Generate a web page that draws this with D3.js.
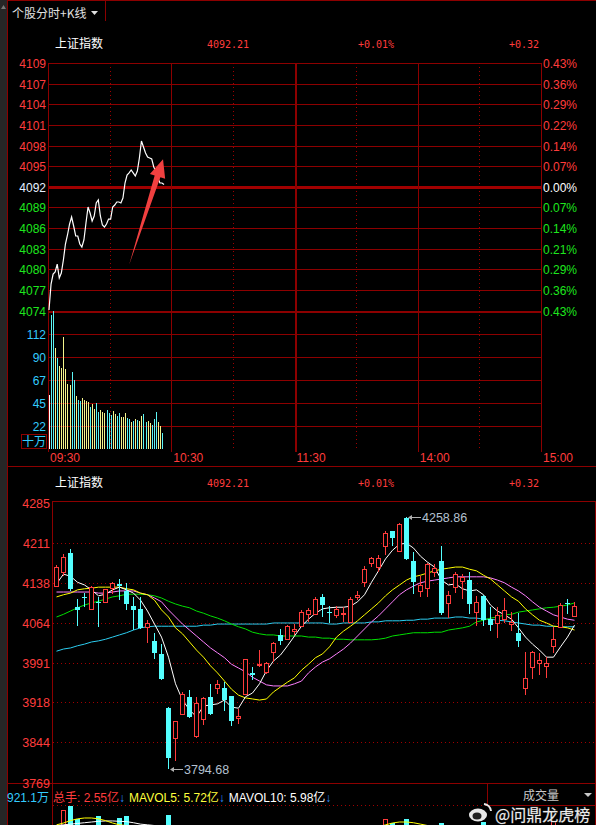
<!DOCTYPE html>
<html>
<head>
<meta charset="utf-8">
<script src="https://cdn.jsdelivr.net/npm/d3@7"></script>
<style>
  body { margin: 0; background: #000; overflow: hidden; }
  svg { display: block; }
  text { font-family: "Liberation Sans", Arial, "Noto Sans CJK SC", sans-serif; }
</style>
</head>
<body>
<div id="chart"></div>
<script>
// ---- header values
const indexName = "上证指数";
const prevClose = 4091.89;
const headerPrice = "4092.21";
const headerPct = "+0.01%";
const headerChg = "+0.32";

// ---- intraday (one value per minute from 09:30)
const minutePrice = [4074.36, 4078.06, 4079.48, 4079.77, 4080.90, 4078.91, 4079.63, 4081.47, 4083.75, 4085.03,
  4086.59, 4087.59, 4086.31, 4084.89, 4084.89, 4083.75, 4083.32, 4084.32, 4086.74, 4089.01,
  4088.16, 4087.02, 4087.73, 4089.58, 4090.01, 4087.73, 4086.45, 4086.17, 4086.59, 4087.30,
  4087.30, 4089.01, 4089.29, 4089.72, 4089.72, 4089.58, 4090.29, 4092.42, 4093.56, 4093.85,
  4094.27, 4093.85, 4093.42, 4094.13, 4095.98, 4098.40, 4097.54, 4096.69, 4096.12, 4095.98,
  4095.84, 4094.70, 4094.13, 4093.13, 4092.42, 4092.42, 4092.21];
// volume in 十万 units
const minuteVol = [52.7, 130.8, 134.7, 98.3, 88.5, 81.0, 78.8, 109.0, 77.8, 63.4,
  62.5, 74.9, 67.3, 51.7, 47.8, 46.9, 50.1, 47.8, 46.9, 45.6,
  41.3, 43.9, 39.0, 44.6, 36.4, 38.1, 36.4, 34.8, 38.1, 34.8,
  33.2, 37.1, 34.2, 32.2, 34.8, 30.9, 31.5, 34.8, 30.0, 29.0,
  26.6, 27.6, 29.3, 28.3, 27.6, 32.2, 33.9, 26.6, 27.6, 25.1,
  23.4, 29.3, 35.8, 26.6, 22.4, 15.9];
const minuteDir = ["w","c","c","y","c","y","y","y","y","y",
  "y","c","c","y","c","c","y","y","y","y",
  "c","y","y","c","c","y","y","y","c","c",
  "c","y","y","c","c","y","y","y","c","c",
  "y","c","y","c","y","y","c","c","y","y",
  "c","c","c","y","y","c"];
const priceLabels = ["4109", "4107", "4104", "4101", "4098", "4095", "4092", "4089", "4086", "4083", "4080", "4077", "4074"];
const pctLabels = ["0.43%", "0.36%", "0.29%", "0.22%", "0.14%", "0.07%", "0.00%", "0.07%", "0.14%", "0.21%", "0.29%", "0.36%", "0.43%"];
const volTicks = [22.4, 44.9, 67.3, 89.7, 112.2];
const timeLabels = ["09:30", "10:30", "11:30", "14:00", "15:00"];
const timeMinutes = [0, 60, 120, 180, 240];

// ---- daily candles
const kOpen = [4133, 4157, 4193, 4093, 4112, 4090, 4103, 4103, 4128, 4135,
  4122, 4095, 4090, 4057, 4031, 4007, 3907, 3853, 3896, 3927,
  3855, 3888, 3927, 3944, 3944, 3929, 3889, 3933, 3971, 3986,
  3974, 4011, 4042, 4034, 4049, 4058, 4080, 4080, 4112, 4085,
  4079, 4081, 4066, 4111, 4140, 4174, 4168, 4206, 4233, 4197,
  4258, 4178, 4123, 4128, 4158, 4178, 4100, 4131, 4142, 4143,
  4085, 4114, 4071, 4064, 4071, 4062, 4046, 3944, 3982, 3990,
  3984, 4022, 4057, 4100, 4077];
const kHigh = [4170, 4191, 4200, 4109, 4119, 4132, 4112, 4127, 4140, 4145,
  4137, 4111, 4111, 4070, 4045, 4025, 3910, 3884, 3936, 3940,
  3928, 3928, 3952, 3959, 3956, 3930, 3905, 3997, 3982, 4014,
  3993, 4029, 4053, 4061, 4062, 4087, 4091, 4111, 4117, 4095,
  4095, 4093, 4111, 4123, 4169, 4186, 4189, 4233, 4234, 4248,
  4258.86, 4195, 4150, 4174, 4172, 4205, 4123, 4158, 4154, 4158,
  4114, 4116, 4094, 4093, 4110, 4084, 4082, 4010, 4012, 4008,
  4001, 4056, 4101, 4108, 4103];
const kLow = [4130, 4150, 4122, 4058, 4094, 4088, 4057, 4101, 4117, 4107,
  4088, 4051, 4052, 4027, 3997, 3959, 3794.68, 3810, 3894, 3889,
  3853, 3876, 3895, 3933, 3902, 3875, 3878, 3931, 3959, 3983,
  3970, 3993, 4023, 4033, 4042, 4056, 4066, 4078, 4075, 4064,
  4074, 4066, 4064, 4106, 4130, 4168, 4158, 4189, 4205, 4195,
  4180, 4117, 4112, 4112, 4149, 4079, 4074, 4120, 4108, 4080,
  4058, 4058, 4050, 4037, 4064, 4049, 4019, 3932, 3960, 3968,
  3962, 4009, 4055, 4080, 4075];
const kClose = [4167, 4185, 4126, 4088, 4110, 4130, 4101, 4126, 4137, 4132,
  4099, 4088, 4054, 4064, 4008, 3960, 3816, 3884, 3934, 3891,
  3916, 3925, 3896, 3952, 3922, 3884, 3893, 3997, 3968, 3989,
  3991, 4028, 4031, 4058, 4053, 4085, 4088, 4109, 4097, 4084,
  4089, 4082, 4109, 4115, 4163, 4183, 4184, 4229, 4220, 4246,
  4182, 4140, 4134, 4172, 4165, 4082, 4115, 4155, 4149, 4099,
  4103, 4069, 4060, 4079, 4088, 4065, 4031, 3962, 4011, 3996,
  3991, 4035, 4098, 4099, 4095];
const ma5 = [4136, 4154, 4150, 4139, 4134, 4125, 4114, 4117, 4125, 4130,
  4125, 4119, 4106, 4086, 4062, 4038, 4001, 3952, 3922, 3904,
  3891, 3911, 3913, 3915, 3922, 3909, 3907, 3928, 3935, 3952,
  3976, 3994, 4005, 4022, 4040, 4058, 4071, 4082, 4090, 4092,
  4093, 4093, 4095, 4103, 4116, 4139, 4160, 4182, 4198, 4209,
  4211, 4202, 4187, 4176, 4167, 4143, 4134, 4136, 4127, 4123,
  4125, 4116, 4097, 4086, 4079, 4071, 4055, 4038, 4025, 4014,
  4001, 4001, 4020, 4038, 4060];
const ma10 = [4112, 4116, 4119, 4125, 4127, 4128, 4130, 4130, 4130, 4130,
  4127, 4125, 4119, 4116, 4106, 4088, 4075, 4055, 4044, 4029,
  4014, 4001, 3985, 3972, 3957, 3942, 3931, 3926, 3924, 3922,
  3924, 3937, 3946, 3955, 3963, 3977, 3988, 4000, 4007, 4020,
  4038, 4049, 4058, 4068, 4079, 4090, 4101, 4114, 4125, 4134,
  4143, 4149, 4152, 4156, 4160, 4163, 4165, 4167, 4167, 4163,
  4160, 4152, 4145, 4134, 4123, 4112, 4104, 4090, 4079, 4069,
  4064, 4058, 4057, 4055, 4051];
const ma20 = [4121, 4121, 4121, 4121, 4121, 4121, 4119, 4119, 4121, 4123,
  4123, 4123, 4119, 4116, 4110, 4103, 4088, 4075, 4062, 4051,
  4040, 4029, 4018, 4009, 4000, 3988, 3981, 3974, 3964, 3957,
  3950, 3948, 3948, 3948, 3952, 3957, 3972, 3983, 3992, 3998,
  4007, 4016, 4027, 4040, 4053, 4066, 4077, 4090, 4103, 4116,
  4125, 4132, 4138, 4141, 4143, 4145, 4147, 4149, 4149, 4149,
  4149, 4149, 4147, 4143, 4138, 4130, 4123, 4114, 4103, 4093,
  4086, 4079, 4075, 4071, 4069];
const ma60 = [4075, 4080, 4086, 4092, 4097, 4101, 4104, 4108, 4112, 4114,
  4117, 4117, 4117, 4116, 4114, 4110, 4104, 4099, 4095, 4092,
  4086, 4082, 4077, 4073, 4068, 4062, 4057, 4053, 4047, 4044,
  4042, 4042, 4040, 4040, 4040, 4040, 4038, 4038, 4036, 4036,
  4034, 4034, 4033, 4033, 4033, 4033, 4034, 4036, 4040, 4042,
  4044, 4046, 4046, 4046, 4047, 4047, 4051, 4053, 4055, 4058,
  4066, 4069, 4073, 4075, 4079, 4080, 4084, 4086, 4088, 4090,
  4092, 4093, 4095, 4097, 4101];
const ma120 = [4012, 4016, 4018, 4022, 4025, 4029, 4031, 4034, 4038, 4042,
  4046, 4051, 4055, 4057, 4058, 4058, 4058, 4058, 4058, 4058,
  4058, 4060, 4060, 4062, 4062, 4062, 4062, 4062, 4062, 4062,
  4062, 4064, 4064, 4064, 4064, 4064, 4064, 4064, 4064, 4062,
  4062, 4064, 4064, 4064, 4064, 4066, 4066, 4068, 4068, 4068,
  4069, 4069, 4071, 4071, 4073, 4073, 4073, 4075, 4075, 4073,
  4073, 4071, 4071, 4069, 4068, 4066, 4064, 4062, 4060, 4060,
  4058, 4058, 4057, 4057, 4057];
const kTickLabels = ["4285", "4211", "4138", "4064", "3991", "3918", "3844", "3769"];
const highMark = 4258.86, highIdx = 50;
const lowMark = 3794.68, lowIdx = 16;

// ---- daily volume (亿); the panel is cut off, only the tallest bars show
const kVol = [6.2, 8.5, 9.21, 7.23, 6.0, 6.2, 7.65, 5.6, 5.8, 7.37,
  7.65, 6.3, 6.2, 5.5, 6.1, 6.3, 7.79, 6.3, 6.0, 5.6,
  5.9, 5.3, 5.2, 4.9, 5.0, 5.3, 4.8, 6.1, 5.2, 5.0,
  4.9, 5.5, 5.6, 5.4, 5.1, 5.8, 5.3, 5.9, 6.0, 5.4,
  5.0, 4.9, 6.0, 5.5, 6.2, 6.0, 6.1, 7.23, 6.66, 6.3,
  7.23, 6.2, 5.6, 6.0, 5.5, 6.66, 5.6, 5.8, 5.3, 6.1,
  5.5, 6.8, 5.6, 5.4, 5.5, 5.2, 6.1, 6.2, 5.8, 5.3,
  5.9, 6.94, 6.3, 6.2, 2.55];
const mavol5 = [6.4, 6.66, 7.0, 7.25, 7.37, 7.37, 7.25, 7.0, 6.66, 6.4,
  6.3, 6.3, 6.2, 6.2, 6.1, 6.0, 6.2, 6.2, 6.2, 6.1,
  5.9, 5.8, 5.6, 5.4, 5.2, 5.2, 5.1, 5.2, 5.2, 5.3,
  5.2, 5.3, 5.4, 5.3, 5.3, 5.5, 5.5, 5.6, 5.6, 5.7,
  5.6, 5.5, 5.5, 5.5, 5.7, 5.9, 6.1, 6.4, 6.66, 6.8,
  6.8, 6.7, 6.5, 6.3, 6.1, 6.0, 5.9, 5.9, 5.8, 5.8,
  5.8, 5.9, 5.9, 5.9, 5.8, 5.7, 5.7, 5.8, 5.8, 5.8,
  5.8, 5.9, 5.9, 5.8, 5.72];
const mavol10 = [6.3, 6.4, 6.5, 6.6, 6.7, 6.8, 6.9, 6.95, 6.95, 6.9,
  6.85, 6.7, 6.5, 6.4, 6.3, 6.2, 6.2, 6.2, 6.1, 6.1,
  6.0, 5.9, 5.9, 5.8, 5.7, 5.6, 5.5, 5.4, 5.3, 5.3,
  5.2, 5.2, 5.3, 5.3, 5.3, 5.4, 5.4, 5.4, 5.5, 5.5,
  5.5, 5.5, 5.6, 5.6, 5.7, 5.8, 5.8, 5.9, 6.0, 6.1,
  6.2, 6.3, 6.3, 6.3, 6.3, 6.3, 6.2, 6.2, 6.2, 6.1,
  6.0, 6.0, 5.9, 5.9, 5.9, 5.9, 5.9, 5.9, 5.9, 5.9,
  6.0, 6.0, 6.0, 6.0, 5.98];
const volTop = 9.211;
const volHeader = "921.1万";
const volStats = [
  { label: "总手: 2.55亿", colour: "#ff3c3c" },
  { label: "MAVOL5: 5.72亿", colour: "#ffff3c" },
  { label: "MAVOL10: 5.98亿", colour: "#ffffff" }
];

const colours = {
  grid: "#8c0000",
  dot: "#a00000",
  red: "#ff3c3c",
  green: "#1ee61e",
  blue: "#33ccff",
  cyanBar: "#5cf4f4",
  yellowBar: "#f4f48c",
  candleDown: "#54ffff",
  ma5: "#ffffff",
  ma10: "#ffff00",
  ma20: "#ff80ff",
  ma60: "#00e000",
  ma120: "#2ccdf0"
};

const W = 596, H = 825;
const svg = d3.select("#chart").append("svg").attr("width", W).attr("height", H);
svg.append("rect").attr("width", W).attr("height", H).attr("fill", "#000");

const cjk = "'Noto Sans CJK SC', sans-serif";
const mono = "'DejaVu Sans Mono', monospace";

// ---------------- daily scales (shared by candles and volume)
const n = kOpen.length;
const xK = d3.scaleBand().domain(d3.range(n)).range([52.5, 52.5 + n * 7]);
const yK = d3.scaleLinear().domain([3769.2, 4285]).range([783, 503]);
const cx = i => Math.round(xK(i) + xK.bandwidth() / 2);

// ---------------- volume footer bars (drawn first, clipped to the footer)
svg.append("clipPath").attr("id", "volClip")
  .append("rect").attr("x", 53).attr("y", 806).attr("width", 542).attr("height", H - 806);
const yVol = d3.scaleLinear().domain([0, volTop]).range([870, 805]);
const vg = svg.append("g").attr("clip-path", "url(#volClip)");
const vb = vg.append("g").attr("shape-rendering", "crispEdges");
d3.range(n).forEach(i => {
  const x = cx(i), top = Math.round(yVol(kVol[i]));
  if (kClose[i] >= kOpen[i]) {
    vb.append("rect").attr("x", x - 1.5).attr("y", top + 0.5).attr("width", 4).attr("height", H + 10 - top)
      .attr("fill", "#000").attr("stroke", colours.red);
  } else {
    vb.append("rect").attr("x", x - 2).attr("y", top).attr("width", 5).attr("height", H + 10 - top)
      .attr("fill", colours.candleDown);
  }
});
const volLine = d3.line().x((d, i) => cx(i) + 0.5).y(d => yVol(d));
vg.append("path").datum(mavol10).attr("d", volLine).attr("fill", "none").attr("stroke", "#ffffff");
vg.append("path").datum(mavol5).attr("d", volLine).attr("fill", "none").attr("stroke", "#ffff00");

// left strip and top tab
svg.append("rect").attr("x", 0).attr("y", 0).attr("width", 7).attr("height", H).attr("fill", "#262626");
svg.append("path").attr("d", "M1,9 L3.5,5 L6,9 Z").attr("fill", "#777");
const frame = svg.append("g").attr("stroke", colours.grid).attr("shape-rendering", "crispEdges");
frame.append("line").attr("x1", 7).attr("x2", W).attr("y1", 0.5).attr("y2", 0.5);
frame.append("line").attr("x1", 7.5).attr("x2", 7.5).attr("y1", 0).attr("y2", H);
frame.append("line").attr("x1", 105.5).attr("x2", 105.5).attr("y1", 0).attr("y2", 21);
frame.append("line").attr("x1", 7).attr("x2", W).attr("y1", 466.5).attr("y2", 466.5);
svg.append("text").attr("x", 12).attr("y", 18).attr("fill", "#e0e0e0")
  .style("font-family", cjk).style("font-size", "12px").text("个股分时+K线");
svg.append("path").attr("d", "M91,11 L98,11 L94.5,15 Z").attr("fill", "#e0e0e0");

// header rows
function header(y) {
  svg.append("text").attr("x", 55).attr("y", y).attr("fill", "#ffffff")
    .style("font-family", cjk).style("font-size", "12px").text(indexName);
  [[207, headerPrice], [358, headerPct], [509, headerChg]].forEach(([x, t]) => {
    svg.append("text").attr("x", x).attr("y", y).attr("fill", colours.red)
      .style("font-family", mono).style("font-size", "10px").text(t);
  });
}
header(48);
header(487);

// ---------------- intraday panel
const xT = d3.scaleLinear().domain([0, 240]).range([48, 541]);
const yP = d3.scaleLinear()
  .domain([prevClose * (1 - 0.0043), prevClose * (1 + 0.0043)])
  .range([310.5, 63]);
const yV = d3.scaleLinear().domain([0, 134.6]).range([449, 311]);

const intra = svg.append("g").attr("shape-rendering", "crispEdges");
const priceLevels = d3.range(13).map(k => prevClose * (1 + 0.0043 * (6 - k) / 6));
priceLevels.forEach((p, k) => {
  const y = Math.round(yP(p));
  intra.append("line").attr("x1", 48).attr("x2", 541)
    .attr("y1", y + 0.5).attr("y2", y + 0.5)
    .attr("stroke", k === 6 ? "#a00000" : colours.grid)
    .attr("stroke-width", k === 6 ? 3 : (k === 12 ? 2 : 1));
  const left = k < 6 ? colours.red : (k === 6 ? "#e6f0ff" : colours.green);
  const right = k < 6 ? colours.red : (k === 6 ? "#ffffff" : colours.green);
  svg.append("text").attr("x", 46).attr("y", y + 4.5).attr("text-anchor", "end")
    .attr("fill", left).style("font-size", "12px").text(priceLabels[k]);
  svg.append("text").attr("x", 543).attr("y", y + 4.5)
    .attr("fill", right).style("font-size", "12px").text(pctLabels[k]);
});
volTicks.forEach(v => {
  const y = Math.round(yV(v));
  intra.append("line").attr("x1", 48).attr("x2", 541)
    .attr("y1", y + 0.5).attr("y2", y + 0.5).attr("stroke", colours.grid);
  svg.append("text").attr("x", 46).attr("y", y + 4.5).attr("text-anchor", "end")
    .attr("fill", colours.blue).style("font-size", "12px").text(d3.format(".0f")(v));
});
d3.range(0, 241, 30).forEach(m => {
  const x = Math.round(xT(m));
  const solid = m % 60 === 0;
  intra.append("line").attr("x1", x + 0.5).attr("x2", x + 0.5)
    .attr("y1", 63).attr("y2", solid ? 452 : 449)
    .attr("stroke", solid ? colours.grid : colours.dot)
    .attr("stroke-width", m === 120 ? 2 : 1)
    .attr("stroke-dasharray", solid ? null : "1,3");
});
timeLabels.forEach((t, i) => {
  svg.append("text").attr("x", xT(timeMinutes[i]) + 2).attr("y", 462)
    .attr("fill", colours.red).style("font-size", "12px").text(t);
});
// 十万 unit box
svg.append("rect").attr("x", 21.5).attr("y", 434.5).attr("width", 25).attr("height", 14)
  .attr("fill", "none").attr("stroke", colours.grid);
svg.append("text").attr("x", 34).attr("y", 446).attr("text-anchor", "middle")
  .attr("fill", colours.blue).style("font-family", cjk).style("font-size", "12px").text("十万");

// minute volume bars
const barColour = { w: "#ffffff", c: colours.cyanBar, y: colours.yellowBar };
intra.selectAll(".mvol").data(minuteVol).enter().append("line")
  .attr("class", "mvol")
  .attr("x1", (d, i) => Math.round(xT(i) + 1) + 0.5)
  .attr("x2", (d, i) => Math.round(xT(i) + 1) + 0.5)
  .attr("y1", yV(0))
  .attr("y2", d => yV(d))
  .attr("stroke", (d, i) => barColour[minuteDir[i]]);

// price line
const priceLine = d3.line().x((d, i) => xT(i) + 1).y(d => yP(d));
svg.append("path").datum(minutePrice).attr("d", priceLine)
  .attr("fill", "none").attr("stroke", "#ffffff").attr("stroke-width", 1.2);

// hand-drawn red arrow (tail and tip in minute / price terms)
const arrowTail = [39.5, 4080.8], arrowTip = [56, 4095.8];
(function drawArrow() {
  const x0 = xT(arrowTail[0]), y0 = yP(arrowTail[1]);
  const x1 = xT(arrowTip[0]), y1 = yP(arrowTip[1]);
  const dx = x1 - x0, dy = y1 - y0, len = Math.hypot(dx, dy);
  const ux = dx / len, uy = dy / len, nx = -uy, ny = ux;
  const headLen = 18, headW = 8, shaftEnd = 3;
  const bx = x1 - ux * headLen, by = y1 - uy * headLen;
  const pts = [
    [x0, y0],
    [bx + nx * shaftEnd, by + ny * shaftEnd],
    [bx + nx * headW, by + ny * headW],
    [x1, y1],
    [bx - nx * headW, by - ny * headW],
    [bx - nx * shaftEnd, by - ny * shaftEnd]
  ];
  svg.append("path").attr("d", "M" + pts.map(p => p.join(",")).join("L") + "Z")
    .attr("fill", "#f04040");
})();

// ---------------- daily candle panel
const kg = svg.append("g").attr("shape-rendering", "crispEdges");
kg.append("line").attr("x1", 52).attr("x2", W).attr("y1", 501.5).attr("y2", 501.5).attr("stroke", colours.grid);
kg.append("line").attr("x1", 52.5).attr("x2", 52.5).attr("y1", 501).attr("y2", H).attr("stroke", colours.grid);
kg.append("line").attr("x1", 595.5).attr("x2", 595.5).attr("y1", 501).attr("y2", H).attr("stroke", colours.grid);
kg.append("line").attr("x1", 7).attr("x2", W).attr("y1", 783.5).attr("y2", 783.5).attr("stroke", colours.grid);
kTickLabels.forEach((t, k) => {
  const y = Math.round(yK(+t));
  if (k > 0 && k < kTickLabels.length - 1) {
    kg.append("line").attr("x1", 53).attr("x2", 595).attr("y1", y + 0.5).attr("y2", y + 0.5)
      .attr("stroke", colours.dot).attr("stroke-dasharray", "1,3");
  }
  svg.append("text").attr("x", 50).attr("y", y + 4.5).attr("text-anchor", "end")
    .attr("fill", colours.red).style("font-size", "12.5px").text(t);
});

// moving averages
const maLine = d3.line().x((d, i) => cx(i) + 0.5).y(d => yK(d));
[[ma120, colours.ma120], [ma60, colours.ma60], [ma20, colours.ma20], [ma10, colours.ma10], [ma5, colours.ma5]]
  .forEach(([arr, c]) => {
    svg.append("path").datum(arr).attr("d", maLine)
      .attr("fill", "none").attr("stroke", c).attr("stroke-width", 1);
  });

// candles
const cg = svg.append("g").attr("shape-rendering", "crispEdges");
d3.range(n).forEach(i => {
  const o = kOpen[i], c = kClose[i], h = kHigh[i], l = kLow[i];
  const x = cx(i);
  const top = Math.round(yK(Math.max(o, c))), bot = Math.round(yK(Math.min(o, c)));
  if (c >= o) {
    cg.append("line").attr("x1", x + 0.5).attr("x2", x + 0.5).attr("y1", yK(h)).attr("y2", top).attr("stroke", colours.red);
    cg.append("line").attr("x1", x + 0.5).attr("x2", x + 0.5).attr("y1", bot).attr("y2", yK(l)).attr("stroke", colours.red);
    cg.append("rect").attr("x", x - 1.5).attr("y", top + 0.5).attr("width", 4).attr("height", Math.max(bot - top, 1))
      .attr("fill", "#000").attr("stroke", colours.red);
  } else {
    cg.append("line").attr("x1", x + 0.5).attr("x2", x + 0.5).attr("y1", yK(h)).attr("y2", yK(l)).attr("stroke", colours.candleDown);
    cg.append("rect").attr("x", x - 2).attr("y", top).attr("width", 5).attr("height", Math.max(bot - top, 1))
      .attr("fill", colours.candleDown);
  }
});

// high / low markers
function marker(idx, value) {
  const x = cx(idx) + 2, y = Math.round(yK(value)) + 0.5;
  svg.append("line").attr("x1", x + 2).attr("x2", x + 13).attr("y1", y).attr("y2", y)
    .attr("stroke", "#b0b0b0");
  svg.append("path").attr("d", `M${x},${y} L${x + 4},${y - 2.5} L${x + 4},${y + 2.5} Z`).attr("fill", "#b0b0b0");
  svg.append("text").attr("x", x + 14).attr("y", y + 4.5).attr("fill", "#b4c0d0")
    .style("font-size", "12.5px").text(d3.format(".2f")(value));
}
marker(highIdx, highMark);
marker(lowIdx, lowMark);

// ---------------- volume footer texts and frame
svg.append("text").attr("x", 7).attr("y", 802).attr("fill", colours.blue)
  .style("font-size", "12px").text(volHeader);
let fx = 53;
volStats.forEach(s => {
  const t = svg.append("text").attr("x", fx).attr("y", 802).attr("fill", s.colour)
    .style("font-size", "12px").text(s.label);
  fx += t.node().getComputedTextLength();
  svg.append("text").attr("x", fx).attr("y", 802).attr("fill", "#2a8cff")
    .style("font-size", "12px").text("↓");
  fx += 10;
});
kg.append("line").attr("x1", 53).attr("x2", 487).attr("y1", 805.5).attr("y2", 805.5)
  .attr("stroke", colours.dot).attr("stroke-dasharray", "1,3");
kg.append("line").attr("x1", 487).attr("x2", W).attr("y1", 805.5).attr("y2", 805.5).attr("stroke", colours.grid);
kg.append("line").attr("x1", 487.5).attr("x2", 487.5).attr("y1", 783).attr("y2", 805).attr("stroke", colours.grid);
svg.append("text").attr("x", 523).attr("y", 800).attr("fill", "#c8c8c8")
  .style("font-family", cjk).style("font-size", "12px").text("成交量");
svg.append("path").attr("d", "M584,793 L592,793 L588,797 Z").attr("fill", "#c8c8c8");

// watermark
const wm = svg.append("g");
wm.append("ellipse").attr("cx", 478).attr("cy", 815).attr("rx", 9).attr("ry", 6.5).attr("fill", "#e8e8e8");
wm.append("ellipse").attr("cx", 477).attr("cy", 816).attr("rx", 4.5).attr("ry", 3.5).attr("fill", "#222");
wm.append("path").attr("d", "M484,804 A8,8 0 0 1 491,811").attr("fill", "none").attr("stroke", "#e8e8e8").attr("stroke-width", 2);
wm.append("text").attr("x", 495).attr("y", 821).attr("fill", "#ececec")
  .attr("stroke", "#555").attr("stroke-width", 0.6).attr("paint-order", "stroke")
  .style("font-family", cjk).style("font-size", "16px").text("@问鼎龙虎榜");
</script>
</body>
</html>
